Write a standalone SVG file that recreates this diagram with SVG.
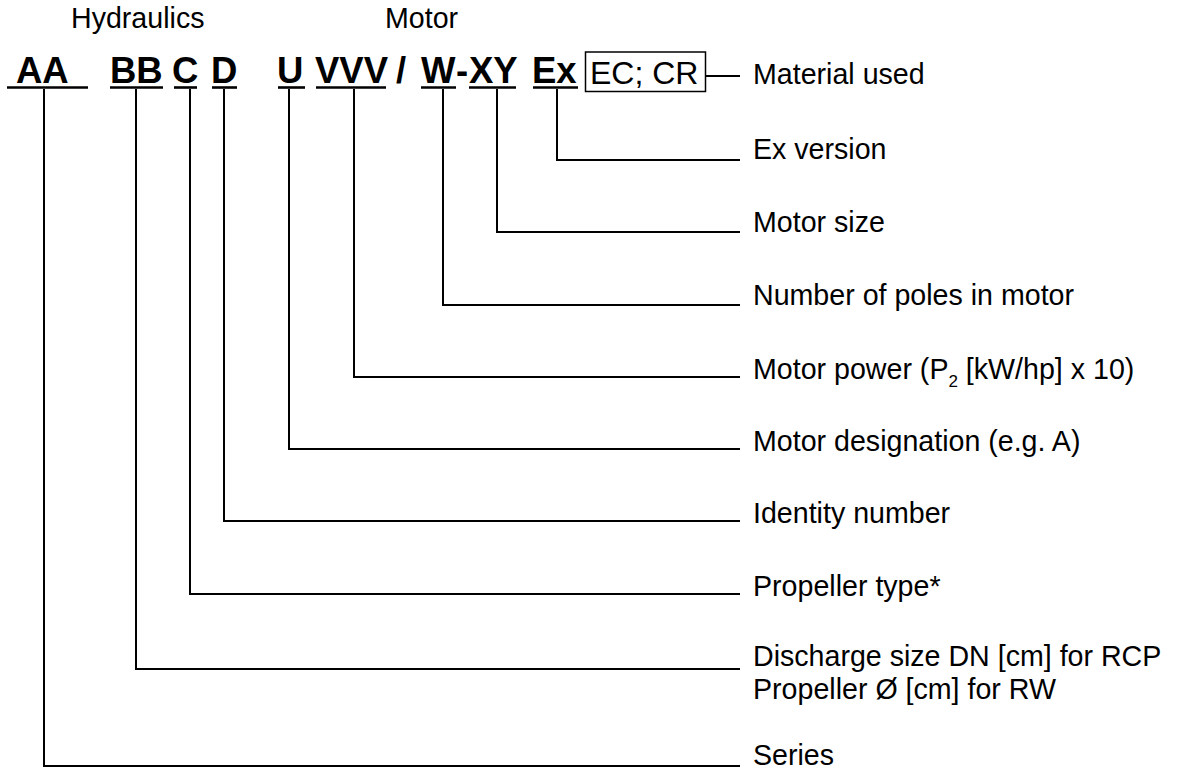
<svg xmlns="http://www.w3.org/2000/svg" width="1181" height="769" viewBox="0 0 1181 769">
<style>
.hdr{font-family:"Liberation Sans",Arial,sans-serif;font-size:28.6px;fill:#000}
.code{font-family:"Liberation Sans",Arial,sans-serif;font-size:36.5px;font-weight:bold;fill:#000}
.lbl{font-family:"Liberation Sans",Arial,sans-serif;font-size:28.6px;fill:#000}
.ul{stroke:#000;stroke-width:2.6;fill:none}
.con{stroke:#000;stroke-width:2;fill:none}
</style>
<rect width="1181" height="769" fill="#fff"/>
<g id="headers">
<text class="hdr" x="71" y="28">Hydraulics</text>
<text class="hdr" x="385" y="28">Motor</text>
</g>
<g id="code">
<g id="seg-AA"><text class="code" x="16" y="83">AA</text><line class="ul" x1="7" y1="87.5" x2="88" y2="87.5"/></g>
<g id="seg-BB"><text class="code" x="110" y="83">BB</text><line class="ul" x1="110" y1="87.5" x2="163" y2="87.5"/></g>
<g id="seg-C"><text class="code" x="172" y="83">C</text><line class="ul" x1="174" y1="87.5" x2="197" y2="87.5"/></g>
<g id="seg-D"><text class="code" x="211" y="83">D</text><line class="ul" x1="212" y1="87.5" x2="237" y2="87.5"/></g>
<g id="seg-U"><text class="code" x="277" y="83">U</text><line class="ul" x1="278" y1="87.5" x2="305" y2="87.5"/></g>
<g id="seg-VVV"><text class="code" x="315" y="83">VVV</text><line class="ul" x1="316" y1="87.5" x2="386" y2="87.5"/></g>
<text class="code" x="396" y="83">/</text>
<g id="seg-W"><text class="code" x="421" y="83">W</text><line class="ul" x1="421" y1="87.5" x2="456" y2="87.5"/></g>
<text class="code" x="456" y="83">-</text>
<g id="seg-XY"><text class="code" x="469" y="83">XY</text><line class="ul" x1="469" y1="87.5" x2="516" y2="87.5"/></g>
<g id="seg-Ex"><text class="code" x="532" y="83">Ex</text><line class="ul" x1="533" y1="87.5" x2="578" y2="87.5"/></g>
<g id="seg-material"><rect x="585.5" y="52" width="120" height="39.5" fill="none" stroke="#000" stroke-width="1.5"/><text x="590" y="84" font-family="Liberation Sans, Arial, sans-serif" font-size="32">EC; CR</text></g>
</g>
<g id="connectors">
<path class="con" d="M706 76 H740"/>
<path class="con" d="M557 89 V160 H740"/>
<path class="con" d="M497 89 V232 H740"/>
<path class="con" d="M443 89 V305 H740"/>
<path class="con" d="M354 89 V377 H740"/>
<path class="con" d="M289 89 V449 H740"/>
<path class="con" d="M224 89 V521 H740"/>
<path class="con" d="M190 89 V594 H740"/>
<path class="con" d="M136 89 V669 H740"/>
<path class="con" d="M44 89 V766 H740"/>
</g>
<g id="labels">
<text id="lbl-material" class="lbl" x="753" y="84">Material used</text>
<text id="lbl-ex" class="lbl" x="753" y="159">Ex version</text>
<text id="lbl-size" class="lbl" x="753" y="232">Motor size</text>
<text id="lbl-poles" class="lbl" x="753" y="305">Number of poles in motor</text>
<text id="lbl-power" class="lbl" x="753" y="379">Motor power (P<tspan font-size="17" dy="8">2</tspan><tspan dy="-8"> [kW/hp] x 10)</tspan></text>
<text id="lbl-desig" class="lbl" x="753" y="451">Motor designation (e.g. A)</text>
<text id="lbl-id" class="lbl" x="753" y="523">Identity number</text>
<text id="lbl-prop" class="lbl" x="753" y="596">Propeller type*</text>
<text id="lbl-dis" class="lbl" x="753" y="666">Discharge size DN [cm] for RCP<tspan x="753" y="699">Propeller Ø [cm] for RW</tspan></text>
<text id="lbl-series" class="lbl" x="753" y="765">Series</text>
</g>
</svg>
